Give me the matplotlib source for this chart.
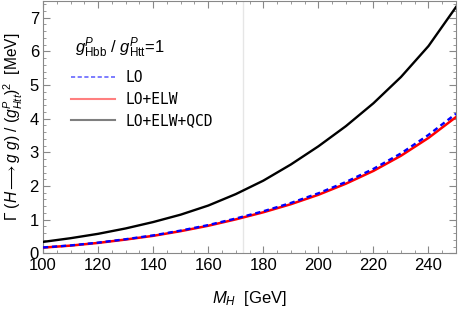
import numpy as np
import matplotlib
matplotlib.use("Agg")
import matplotlib.pyplot as plt
from matplotlib.lines import Line2D
from matplotlib.ticker import MultipleLocator

plt.rcParams['font.family'] = 'Liberation Sans'
plt.rcParams['mathtext.fontset'] = 'custom'
plt.rcParams['mathtext.rm'] = 'Liberation Sans'
plt.rcParams['mathtext.it'] = 'Liberation Sans:italic'

# values (MeV)
mh = [100, 110, 120, 130, 140, 150, 160, 170, 180, 190, 200, 210, 220, 230, 240, 250]
lo_elw = [0.17, 0.23, 0.31, 0.41, 0.52, 0.66, 0.82, 1.01, 1.22, 1.46, 1.74, 2.07, 2.45, 2.90, 3.43, 4.05]
lo = [0.175, 0.235, 0.318, 0.42, 0.533, 0.676, 0.84, 1.035, 1.25, 1.497, 1.785, 2.12, 2.51, 2.97, 3.52, 4.15]
lo_elw_qcd = [0.34, 0.45, 0.58, 0.74, 0.93, 1.15, 1.42, 1.76, 2.16, 2.64, 3.18, 3.78, 4.46, 5.24, 6.16, 7.32]
mtop = 172.8

fig = plt.figure(figsize=(4.58, 3.12), dpi=100)
ax = fig.add_axes([0.094, 0.188, 0.9017, 0.809])

ax.axvline(mtop, color="#e6e6e6", lw=1.0, zorder=1)
ax.plot(mh, lo_elw, color="red", lw=1.8, zorder=3)
ax.plot(mh, lo, color="blue", lw=1.7, ls=(0, (2.2, 1.6)), zorder=4)
ax.plot(mh, lo_elw_qcd, color="black", lw=1.7, zorder=3)

ax.set_xlim(100, 250)
ax.set_ylim(0, 7.5)
ax.xaxis.set_major_locator(MultipleLocator(20))
ax.xaxis.set_minor_locator(MultipleLocator(5))
ax.yaxis.set_major_locator(MultipleLocator(1))
ax.yaxis.set_minor_locator(MultipleLocator(0.2))
ax.tick_params(which="both", direction="in", top=True, right=True, color="#888888",
               labelsize=12, pad=3)
ax.tick_params(which="major", length=5, width=0.8)
ax.tick_params(which="minor", length=2.5, width=0.6)
for s in ax.spines.values():
    s.set_color("#888888")
    s.set_linewidth(0.8)

ax.set_xlabel(r"$M_H$  [GeV]", fontsize=12)
ax.xaxis.set_label_coords(0.5, -0.14)
ax.set_ylabel(r"$\Gamma\ (H \longrightarrow g\ g)\ /\ (g^P_{Htt})^2$  [MeV]", fontsize=11.2)
ax.yaxis.set_label_coords(-0.044, 0.5)

fig.text(75/458, 1 - 53/312, r"$g^P_{\mathrm{Hbb}}$ / $g^P_{\mathrm{Htt}}$=1", fontsize=12)

handles = [Line2D([], [], color="blue", lw=1.2, ls=(0, (2.5, 1.5)), alpha=0.6),
           Line2D([], [], color="red", lw=1.5, alpha=0.5),
           Line2D([], [], color="black", lw=1.5, alpha=0.5)]
leg = ax.legend(handles, ["LO", "LO+ELW", "LO+ELW+QCD"], loc="upper left",
                bbox_to_anchor=(58/458, 1 - 57/312), bbox_transform=fig.transFigure,
                frameon=False, handlelength=3.0, handletextpad=0.7, labelspacing=0.45,
                prop={"family": "DejaVu Sans Mono", "size": 10.5})

fig.savefig("out.png", dpi=100)
